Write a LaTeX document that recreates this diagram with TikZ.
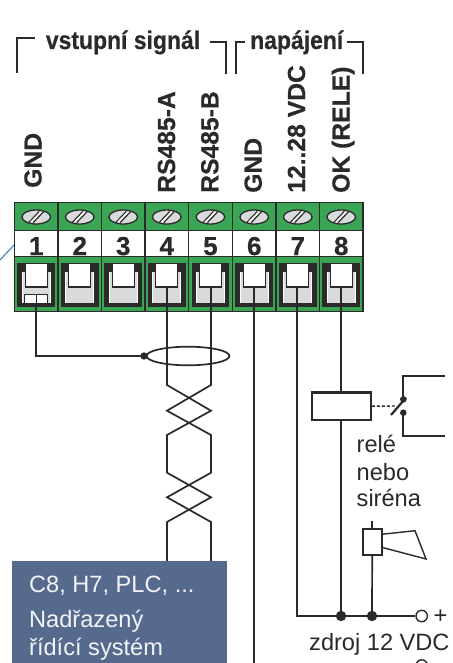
\documentclass[tikz,border=0pt]{standalone}
\usepackage{fontspec}
\setmainfont{Liberation Sans}
\newfontfamily\heavy[FakeBold=0.5]{Liberation Sans Bold}
\definecolor{tgreen}{HTML}{3AA655}
\definecolor{dk}{HTML}{2B2A29}
\definecolor{lgray}{HTML}{D9DBDA}
\definecolor{sysblue}{HTML}{566A8E}
\definecolor{leader}{HTML}{3F80B8}
\newcommand{\fs}[1]{\fontsize{#1}{#1}\selectfont}
\tikzset{
  x=1pt,y=-1pt,
  wire/.style={draw=dk,line width=1.7pt},
  thickwire/.style={draw=dk,line width=2.2pt},
  brk/.style={draw=dk,line width=2.3pt},
  dotn/.style={fill=dk,draw=none},
  pinlabel/.style={anchor=base west,rotate=90,font=\heavy\fs{24.7},text=dk,inner sep=0pt},
  numlabel/.style={anchor=base,font=\heavy\fs{26},text=dk,inner sep=0pt},
  headlabel/.style={anchor=base west,font=\heavy\fs{25.5},xscale=.9,text=dk,inner sep=0pt},
  plain/.style={anchor=base west,font=\fs{23.6},text=dk,inner sep=0pt},
  syslabel/.style={anchor=base west,font=\fs{23.6},text=white!92!sysblue,inner sep=0pt},
}
\begin{document}
\begin{tikzpicture}
\useasboundingbox (0,0) rectangle (452,663);
\clip (0,0) rectangle (452,663);
\fill[white] (0,0) rectangle (452,663);
% leader
\coordinate (leadA) at (0,260);
\coordinate (leadB) at (15,244);
\draw[leader,line width=1.1pt] (leadA) -- (leadB);
% brackets
\draw[brk] (16.7,72.7) -- (16.7,38.3) -- (35,38.3);
\draw[brk] (210,41.7) -- (225.7,41.7) -- (225.7,74);
\draw[brk] (236,74) -- (236,41.7) -- (245,41.7);
\draw[brk] (346.7,41.7) -- (363.3,41.7) -- (363.3,74);
\node[headlabel] (hsig) at (45.7,49) {vstupní signál};
\node[headlabel] (hnap) at (250,49) {napájení};
% rotated labels
\node[pinlabel] (p1) at (41.5,188) {GND};
\node[pinlabel] (p4) at (175,193) {RS485-A};
\node[pinlabel] (p5) at (218.3,193) {RS485-B};
\node[pinlabel] (p6) at (261.7,193) {GND};
\node[pinlabel] (p7) at (305,193) {12..28 VDC};
\node[pinlabel] (p8) at (349.5,193) {OK (RELE)};
% terminal block
\fill[tgreen] (14.5,202.7) rectangle (363,311.7);
\fill[white] (14.5,230.7) rectangle (363,256.7);
\foreach \n/\xl in {1/14.5,2/58,3/101.5,4/145,5/188.7,6/232.5,7/276,8/319.5}{
  \pgfmathsetmacro{\xc}{\xl+21.75}
  % screw
  \draw[dk,fill=lgray,line width=1.3pt] (\xc,217) ellipse [x radius=14.3,y radius=7];
  \draw[dk,line width=1.2pt] (\xc-7.5,222.5) -- (\xc+3,211.5);
  \draw[dk,line width=1.2pt] (\xc-3,222.5) -- (\xc+7.5,211.5);
  \fill[white] (\xc-6,222) -- (\xc+3.7,212) -- (\xc+5.6,212) -- (\xc-4.1,222) -- cycle;
  % number
  \node[numlabel] (n\n) at (\xc,255) {\n};
  % clamp
  \fill[dk] (\xc-18.8,262.7) rectangle (\xc+18.8,307.3);
  \fill[lgray] (\xc-14,271.7) rectangle (\xc+14,303);
  \draw[white,line width=.6pt] (\xc-14,303) -- (\xc-14,271.7);
  \draw[white,line width=.6pt] (\xc+14,303) -- (\xc+14,271.7);
  \fill[white] (\xc-11,264) rectangle (\xc+11,287);
  \draw[dk,line width=1.2pt] (\xc-11,264) -- (\xc-11,287) -- (\xc+11,287) -- (\xc+11,264);
}
\draw[dk,line width=1.3pt] (14.5,202.7) rectangle (363,311.7);
\foreach \xl in {58,101.5,145,188.7,232.5,276,319.5}
  \draw[dk,line width=1.3pt] (\xl,202.7) -- (\xl,311.7);
\draw[dk,line width=1.3pt] (14.5,230.7) -- (363,230.7);
\draw[dk,line width=1.3pt] (14.5,256.7) -- (363,256.7);
% small shield contact in terminal 1
\draw[dk,line width=1.2pt,fill=white] (24.3,294.3) rectangle (47.7,303.3);
\draw[dk,line width=1.2pt] (36.2,294.3) -- (36.2,303.3);
% terminal wire points
\coordinate (t1) at (36.2,303);
\coordinate (t4) at (167,287);
\coordinate (t5) at (211,287);
\coordinate (t6) at (254,287);
\coordinate (t7) at (297.3,287);
\coordinate (t8) at (341,287);
% shield
\coordinate (shd) at (144,356);
\draw[wire] (t1) -- (36.2,356) -- (shd);
\draw[wire] (188,356) ellipse [x radius=41.5,y radius=9.3];
\fill[dotn] (shd) circle [radius=3.7];
% twisted pair
\draw[wire,line join=miter] (t4) -- (167,385) -- (211,410.7) -- (167,435) -- (167,472.7) -- (211,497.3) -- (167,522) -- (167,562);
\draw[wire,line join=miter] (t5) -- (211,385) -- (167,410.7) -- (211,435) -- (211,472.7) -- (167,497.3) -- (211,522) -- (211,562);
% blue box
\fill[sysblue] (12,560.7) rectangle (227,663);
\node[syslabel] (s1) at (29,592) {C8, H7, PLC, ...};
\node[syslabel] (s2) at (29,627.7) {Nadřazený};
\node[syslabel] (s3) at (29,655) {řídící systém};
% GND wire
\draw[thickwire] (t6) -- (254,663);
% relay
\node[draw=dk,line width=2.4pt,minimum width=59pt,minimum height=27.7pt,inner sep=0pt] (relay) at (341.2,406.2) {};
\coordinate (busL) at (297.3,616);
\coordinate (j8) at (341,616);
\coordinate (j9) at (372,616);
\node[draw=dk,line width=1.4pt,fill=white,circle,minimum size=11.4pt,inner sep=0pt] (plus) at (421.7,616) {};
\draw[wire] (t7) -- (busL) -- (plus);
\draw[thickwire] (t8) -- (relay.north -| t8);
\draw[thickwire] (relay.south -| t8) -- (j8);
\fill[dotn] (j8) circle [radius=5.2];
\fill[dotn] (j9) circle [radius=5.2];
\node[anchor=base west,font=\fs{23.6},text=dk,inner sep=0pt] (pl) at (433.5,623) {+};
% switch
\coordinate (swU) at (403.3,399.3);
\coordinate (swL) at (403.3,412.7);
\coordinate (swBase) at (391,415);
\coordinate (swTip) at (406,397.7);
\draw[dk,line width=1.4pt,dash pattern=on 3pt off 2pt] (relay.east) -- (395,406);
\draw[dk,line width=2.2pt] (swBase) -- (swTip);
\fill[dotn] (swU) circle [radius=3.3];
\fill[dotn] (swL) circle [radius=3.3];
\draw[wire] (swU) -- (403.3,375.7) -- (445,375.7);
\draw[wire] (swL) -- (403.3,435.7) -- (445,435.7);
% text
\node[plain] (r1) at (356.5,452.7) {relé};
\node[plain] (r2) at (356.5,480) {nebo};
\node[plain] (r3) at (356.5,506.7) {siréna};
% siren
\node[draw=dk,line width=1.7pt,minimum width=19pt,minimum height=25.4pt,inner sep=0pt] (siren) at (372.2,542) {};
\coordinate (sirT) at (372.2,520.7);
\draw[wire] (sirT) -- (siren.north);
\draw[wire] (siren.south) -- (j9);
\draw[dk,line width=1.4pt,line join=miter] (381.7,534.3) -- (415,530.7) -- (426,559) -- (381.7,547.3);
\node[plain] (z) at (309,650) {zdroj 12 VDC};
\node[draw=dk,line width=1.4pt,fill=white,circle,minimum size=11.4pt,inner sep=0pt] (minus) at (421.7,665.5) {};
\end{tikzpicture}
\end{document}
